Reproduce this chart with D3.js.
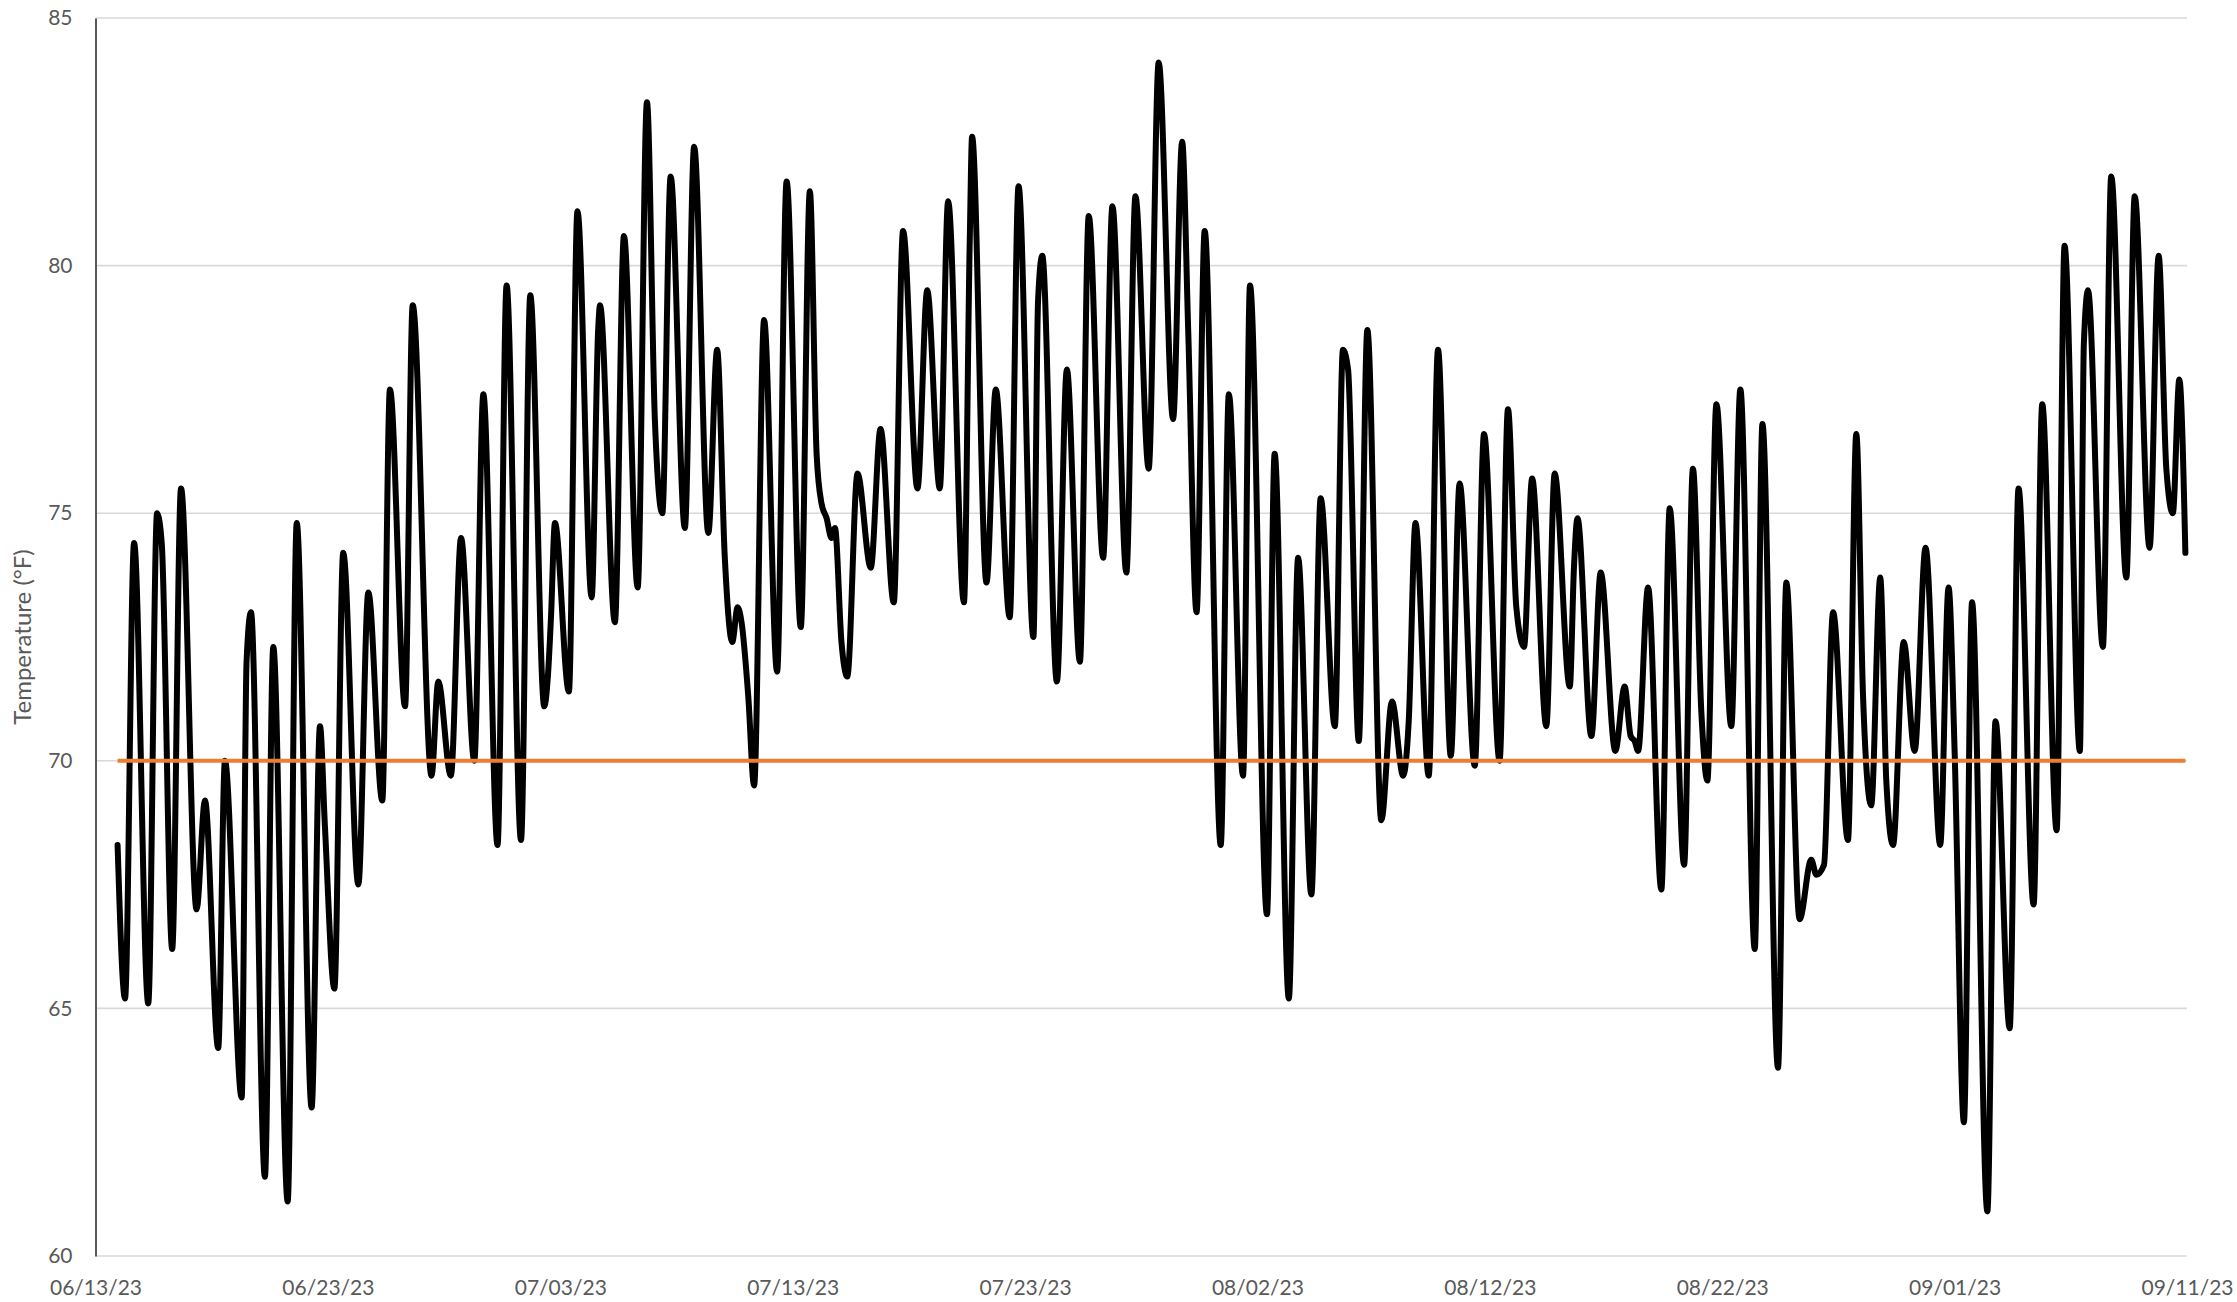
<!DOCTYPE html>
<html>
<head>
<meta charset="utf-8">
<script src="https://cdn.jsdelivr.net/npm/d3@7"></script>
<style>
  html, body { margin: 0; padding: 0; background: #ffffff; }
  svg { display: block; }
  text { font-family: Lato, "Open Sans", "Liberation Sans", sans-serif; fill: #595959; }
</style>
</head>
<body>
<svg id="chart" width="2237" height="1302"></svg>
<script>
// Axis ticks
const dateTicks = ["06/13/23", "06/23/23", "07/03/23", "07/13/23", "07/23/23",
                   "08/02/23", "08/12/23", "08/22/23", "09/01/23", "09/11/23"];
const tempTicks = [60, 65, 70, 75, 80, 85];
const yTitle = "Temperature (°F)";
const setpoint = 70;

// Temperature readings: days elapsed since 06/13/23 00:00, and °F
const juneDays = [0.95, 1.27, 1.66, 2.27, 2.65, 2.85, 3.30, 3.68, 4.35, 4.71, 5.28, 5.57, 6.29, 6.50, 6.69,
  7.29, 7.65, 8.27, 8.66, 9.30, 9.66, 9.87, 10.28, 10.66, 11.31, 11.74, 12.34, 12.67, 13.32, 13.65,
  14.46, 14.75, 15.29, 15.73, 16.30, 16.69, 17.30, 17.69];
const juneTemps = [68.3, 65.2, 74.4, 65.1, 75.0, 74.4, 66.2, 75.5, 67.0, 69.2, 64.2, 70.0, 63.2, 72.0, 73.0,
  61.6, 72.3, 61.1, 74.8, 63.0, 70.7, 68.7, 65.4, 74.2, 67.5, 73.4, 69.2, 77.5, 71.1, 79.2,
  69.7, 71.6, 69.7, 74.5, 70.0, 77.4, 68.3, 79.6];

const julyDays = [18.31, 18.71, 19.31, 19.48, 19.60, 19.77, 20.37, 20.74, 21.35, 21.63, 21.71, 22.35, 22.74,
  23.33, 23.73, 24.07, 24.39, 24.75, 25.36, 25.76, 26.37, 26.75, 27.08, 27.40, 27.63, 27.80, 28.09,
  28.34, 28.77, 29.33, 29.74, 30.35, 30.74, 31.03, 31.24, 31.46, 31.67, 31.82, 32.10, 32.35, 32.79,
  33.36, 33.78, 34.35, 34.75, 35.37, 35.79, 36.33, 36.69, 37.37, 37.62, 37.72, 38.34, 38.74, 39.34,
  39.72, 40.36, 40.56, 40.74, 41.37, 41.80, 42.36, 42.74, 43.36, 43.76, 44.36, 44.75, 45.32, 45.75,
  46.37, 46.76, 47.02, 47.38, 47.73, 48.42, 48.77];
const julyTemps = [68.4, 79.4, 71.1, 71.8, 72.9, 74.8, 71.4, 81.1, 73.3, 78.7, 79.2, 72.8, 80.6,
  73.5, 83.3, 76.9, 75.0, 81.8, 74.7, 82.4, 74.6, 78.3, 74.1, 72.4, 73.1, 72.8, 71.3,
  69.5, 78.9, 71.8, 81.7, 72.7, 81.5, 76.2, 75.2, 74.9, 74.5, 74.7, 72.4, 71.7, 75.8,
  73.9, 76.7, 73.2, 80.7, 75.5, 79.5, 75.5, 81.3, 73.2, 80.5, 82.6, 73.6, 77.5, 72.9,
  81.6, 72.5, 79.3, 80.2, 71.6, 77.9, 72.0, 81.0, 74.1, 81.2, 73.8, 81.4, 75.9, 84.1,
  76.9, 82.5, 78.7, 73.0, 80.7, 68.3, 77.4];

const augSepDays = [49.38, 49.68, 50.41, 50.74, 51.35, 51.75, 52.32, 52.72, 53.33, 53.68, 53.90, 54.36,
  54.73, 55.33, 55.79, 56.27, 56.51, 56.80, 57.37, 57.77, 58.32, 58.70, 59.35, 59.75, 60.42, 60.78,
  61.14, 61.47, 61.82, 62.43, 62.79, 63.44, 63.62, 63.77, 64.37, 64.77, 65.40, 65.80, 66.06, 66.23,
  66.38, 66.81, 67.38, 67.74, 68.36, 68.74, 69.10, 69.36, 69.75, 70.39, 70.78, 71.40, 71.73, 72.40,
  72.76, 73.33, 73.83, 74.05, 74.38, 74.77, 75.41, 75.77, 76.06, 76.41, 76.80, 77.06, 77.35, 77.81,
  78.28, 78.75, 79.38, 79.74, 80.00, 80.40, 80.75, 81.41, 81.76, 82.37, 82.75, 83.40, 83.77, 84.39,
  84.73, 85.39, 85.56, 85.74, 86.38, 86.74, 87.39, 87.75, 88.39, 88.78, 89.11, 89.39, 89.67, 89.93];
const augSepTemps = [69.7, 79.6, 66.9, 76.2, 65.2, 74.1, 67.3, 75.3, 70.7, 78.3, 77.9, 70.4,
  78.7, 68.8, 71.2, 69.7, 70.8, 74.8, 69.7, 78.3, 70.1, 75.6, 69.9, 76.6, 70.0, 77.1,
  73.1, 72.3, 75.7, 70.7, 75.8, 71.5, 73.9, 74.9, 70.5, 73.8, 70.2, 71.5, 70.5, 70.4,
  70.2, 73.5, 67.4, 75.1, 67.9, 75.9, 71.0, 69.6, 77.2, 70.7, 77.5, 66.2, 76.8, 63.8,
  73.6, 66.8, 68.0, 67.7, 67.9, 73.0, 68.4, 76.6, 71.3, 69.1, 73.7, 69.6, 68.3, 72.4,
  70.2, 74.3, 68.3, 73.5, 70.2, 62.7, 73.2, 60.9, 70.8, 64.6, 75.5, 67.1, 77.2, 68.6,
  80.4, 70.2, 78.4, 79.5, 72.3, 81.8, 73.7, 81.4, 74.3, 80.2, 75.9, 75.0, 77.7, 74.2];

const parseDate = d3.timeParse("%m/%d/%y");
const formatDate = d3.timeFormat("%m/%d/%y");
const tickDates = dateTicks.map(parseDate);
const origin = tickDates[0];

const readings = [
  ...juneDays.map((d, i) => ({ day: d, temp: juneTemps[i] })),
  ...julyDays.map((d, i) => ({ day: d, temp: julyTemps[i] })),
  ...augSepDays.map((d, i) => ({ day: d, temp: augSepTemps[i] }))
].map(r => ({ date: new Date(origin.getTime() + r.day * 864e5), temp: r.temp }));

const svg = d3.select("#chart");
const plot = { left: 95.5, right: 2187, top: 18, bottom: 1256 };

const x = d3.scaleTime()
  .domain([tickDates[0], tickDates[tickDates.length - 1]])
  .range([plot.left, plot.right]);
const y = d3.scaleLinear()
  .domain([tempTicks[0], tempTicks[tempTicks.length - 1]])
  .range([plot.bottom, plot.top]);

// Horizontal gridlines
svg.append("g")
  .selectAll("line")
  .data(tempTicks)
  .join("line")
  .attr("x1", plot.left)
  .attr("x2", plot.right)
  .attr("y1", d => y(d))
  .attr("y2", d => y(d))
  .attr("stroke", "#d9d9d9")
  .attr("stroke-width", 1.6);

// Vertical value axis
const yAxis = svg.append("g")
  .attr("transform", `translate(${plot.left},0)`)
  .call(d3.axisLeft(y).tickValues(tempTicks).tickSize(0).tickSizeOuter(0).tickPadding(23));
yAxis.select(".domain").attr("stroke", "#595959").attr("stroke-width", 2);
yAxis.selectAll("text")
  .style("font-size", "21px")
  .attr("fill", "#595959");

// Date axis along the bottom
const xAxis = svg.append("g")
  .attr("transform", `translate(0,${plot.bottom})`)
  .call(d3.axisBottom(x).tickValues(tickDates).tickFormat(formatDate).tickSize(0));
xAxis.select(".domain").remove();
xAxis.selectAll("text")
  .attr("y", 39)
  .attr("dy", 0)
  .style("font-size", "21px")
  .attr("fill", "#595959");

// Axis title
svg.append("text")
  .attr("transform", `translate(25,${(plot.top + plot.bottom) / 2}) rotate(-90)`)
  .attr("text-anchor", "middle")
  .attr("dominant-baseline", "middle")
  .style("font-size", "24px")
  .text(yTitle);

// Temperature trace
const line = d3.line()
  .x(d => x(d.date))
  .y(d => y(d.temp))
  .curve(d3.curveMonotoneX);

svg.append("path")
  .datum(readings)
  .attr("fill", "none")
  .attr("stroke", "#000000")
  .attr("stroke-width", 6)
  .attr("stroke-linejoin", "round")
  .attr("stroke-linecap", "round")
  .attr("d", line);

// Setpoint reference line
const firstDate = readings[0].date;
const lastDate = readings[readings.length - 1].date;
svg.append("line")
  .attr("x1", x(firstDate))
  .attr("x2", x(lastDate))
  .attr("y1", y(setpoint))
  .attr("y2", y(setpoint))
  .attr("stroke", "#ED7D31")
  .attr("stroke-width", 4);
</script>
</body>
</html>
